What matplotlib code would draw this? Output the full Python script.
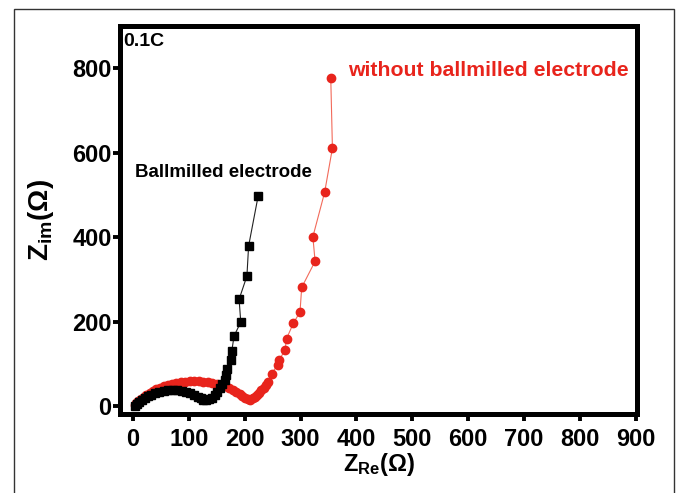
import matplotlib
matplotlib.use('Agg')
import matplotlib.pyplot as plt
from matplotlib.patches import Rectangle

plt.rcParams['font.family'] = ['Liberation Sans', 'DejaVu Sans']
plt.rcParams['font.weight'] = 'bold'
plt.rcParams['mathtext.fontset'] = 'custom'
plt.rcParams['mathtext.rm'] = 'Liberation Sans:bold'
plt.rcParams['mathtext.bf'] = 'Liberation Sans:bold'
plt.rcParams['mathtext.it'] = 'Liberation Sans:bold'

# Ballmilled electrode (black squares)
bm_re = [4, 7, 11, 16, 21, 27, 33, 40, 47, 55, 63, 71, 79, 87, 95, 103, 110, 116,
         121, 126, 131, 136, 141, 146, 151, 156, 160, 164, 167, 168, 176, 177, 181,
         193, 190, 204, 207, 224]
bm_im = [0, 5, 10, 15, 19, 23, 27, 30, 33, 35, 37, 37, 37, 36, 34, 31, 27, 22,
         18, 15, 14, 16, 20, 26, 33, 42, 52, 62, 74, 87, 109, 131, 166,
         199, 253, 308, 379, 497]

# Without ballmilled electrode (red circles)
raw_re = [3, 6, 10, 14, 19, 24, 30, 36, 42, 49, 56, 63, 70, 78, 86, 94, 102, 110,
          118, 126, 134, 142, 150, 158, 165, 172, 179, 185, 191, 196, 201, 206, 210,
          214, 218, 222, 226, 230, 234, 238, 242, 248, 259, 262, 272, 275, 287, 299,
          302, 326, 322, 343, 357, 354]
raw_im = [2, 7, 12, 17, 22, 27, 32, 36, 40, 44, 47, 50, 53, 55, 57, 58, 59, 59,
          59, 58, 57, 55, 53, 50, 47, 43, 38, 33, 28, 23, 19, 16, 15,
          18, 22, 27, 32, 38, 44, 51, 58, 77, 97, 110, 132, 160, 196, 223,
          281, 343, 401, 506, 611, 778]

x_ticks = [0, 100, 200, 300, 400, 500, 600, 700, 800, 900]
y_ticks = [0, 200, 400, 600, 800]

fig = plt.figure(figsize=(6.86, 4.93), dpi=100)
ax = fig.add_axes([0.175, 0.160, 0.7536, 0.787])

ax.plot(bm_re, bm_im, color='#222222', lw=0.8, marker='s', ms=5.5,
        mfc='black', mec='black', zorder=3)
ax.plot(raw_re, raw_im, color='#f26a5a', lw=0.8, marker='o', ms=6,
        mfc='#e8241c', mec='#e8241c', zorder=2)

ax.set_xlim(-23, 902)
ax.set_ylim(-19, 900)
ax.set_xticks(x_ticks)
ax.set_yticks(y_ticks)

for s in ax.spines.values():
    s.set_linewidth(3.6)
ax.tick_params(direction='out', length=5, width=2.8, labelsize=17)
ax.tick_params(axis='x', pad=5)
ax.tick_params(axis='y', pad=1)
for lab in ax.get_xticklabels() + ax.get_yticklabels():
    lab.set_fontweight('bold')

ax.set_xlabel(r'$\mathrm{Z_{Re}}$(Ω)', fontsize=17, fontweight='bold', labelpad=0)
ax.set_ylabel(r'$\mathrm{Z_{im}}$(Ω)', fontsize=20, fontweight='bold', labelpad=12)

ax.text(0.006, 0.982, '0.1C', transform=ax.transAxes, ha='left', va='top',
        fontsize=14, fontweight='bold', color='black')
ax.text(3, 553, 'Ballmilled electrode', ha='left', va='center',
        fontsize=13.5, fontweight='bold', color='black')
ax.text(385, 795, 'without ballmilled electrode', ha='left', va='center',
        fontsize=15.3, fontweight='bold', color='#e8241c')

# thin outer frame around the panel
fig.patches.append(Rectangle((0.0204, -0.05), 0.962, 1.0317, transform=fig.transFigure,
                             fill=False, lw=1.0, edgecolor='#333333'))

fig.savefig('out.png', dpi=100)
